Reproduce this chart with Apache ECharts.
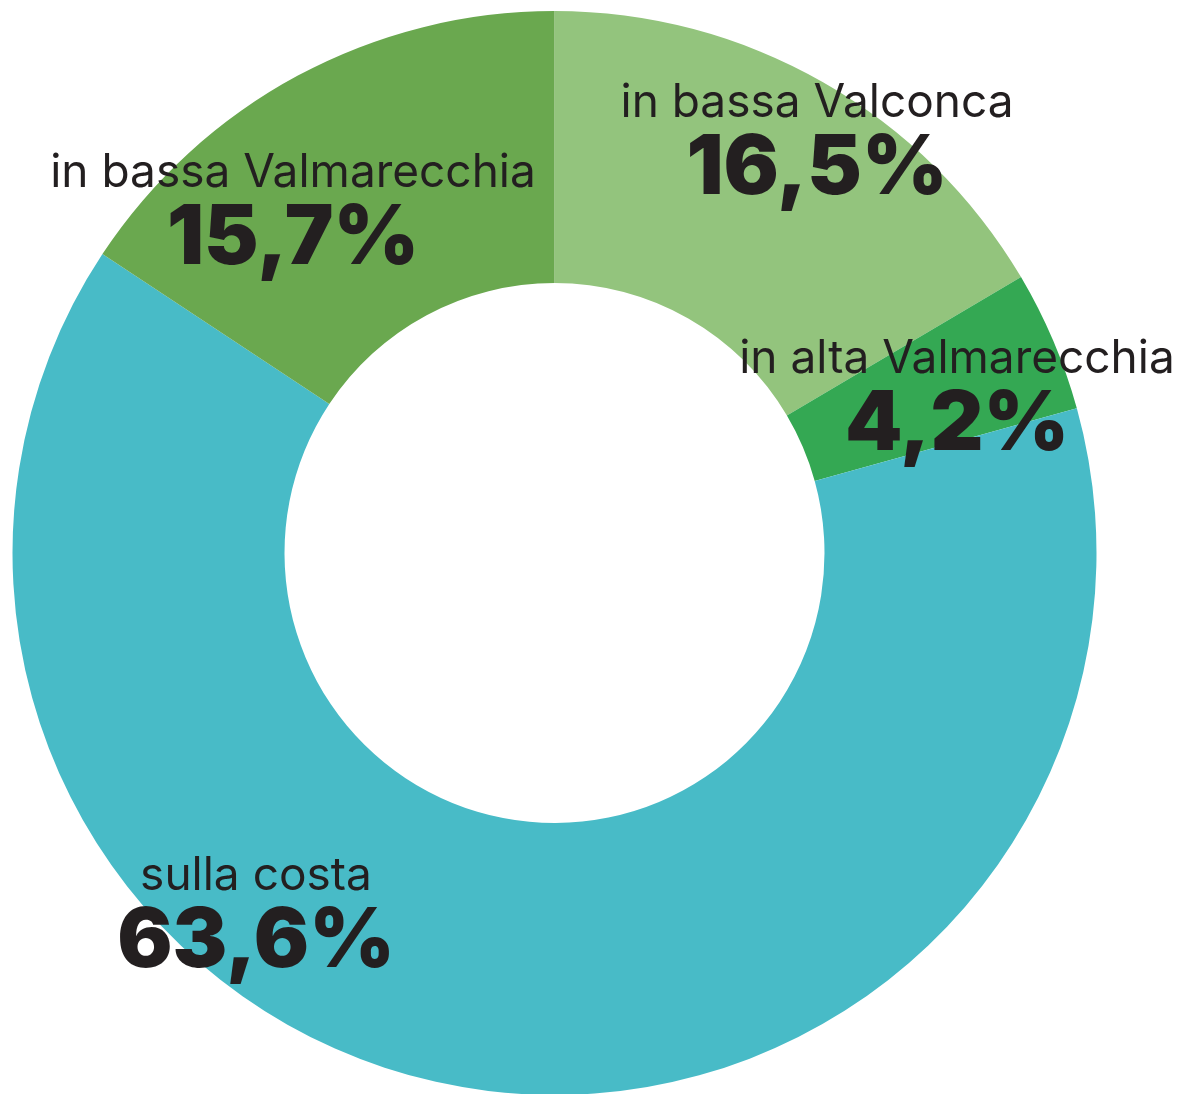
<!DOCTYPE html>
<html>
<head>
<meta charset="utf-8">
<script src="https://cdn.jsdelivr.net/npm/echarts@6/dist/echarts.min.js"></script>
<style>
  html, body { margin: 0; padding: 0; background: #fff; }
  #donut { width: 1185px; height: 1094px; }
</style>
</head>
<body>
<div id="donut"></div>
<script>
  // zone / share (%)
  const zones = ['in bassa Valconca', 'in alta Valmarecchia', 'sulla costa', 'in bassa Valmarecchia'];
  const shares = [16.5, 4.2, 63.6, 15.7];

  const colors = ['#93c47d', '#34a853', '#48bbc7', '#6aa84f'];
  // where each label block sits (centre of the two text lines)
  const labelAnchors = [[817, 141], [957, 397], [256, 914], [293, 211]];

  const chart = echarts.init(document.getElementById('donut'));

  const option = {
    animation: false,
    series: [{
      type: 'pie',
      center: [554.5, 553],
      radius: [270, 542],
      startAngle: 90,
      clockwise: true,
      silent: true,
      data: zones.map((z, i) => ({ name: z, value: shares[i], itemStyle: { color: colors[i] } })),
      label: {
        show: true,
        position: 'inside',
        formatter: p => '{a|' + p.name + '}\n{b|' + p.value.toFixed(1).replace('.', ',') + '%}',
        rich: {
          a: {
            fontFamily: 'Inter',
            fontSize: 46,
            fontWeight: 400,
            color: '#231f20',
            lineHeight: 56,
            align: 'center'
          },
          b: {
            fontFamily: 'Inter',
            fontSize: 82,
            fontWeight: 900,
            color: '#231f20',
            lineHeight: 76,
            align: 'center'
          }
        }
      },
      labelLine: { show: false },
      labelLayout: params => ({
        x: labelAnchors[params.dataIndex][0],
        y: labelAnchors[params.dataIndex][1],
        align: 'center',
        verticalAlign: 'middle'
      })
    }]
  };

  chart.setOption(option);
</script>
</body>
</html>
